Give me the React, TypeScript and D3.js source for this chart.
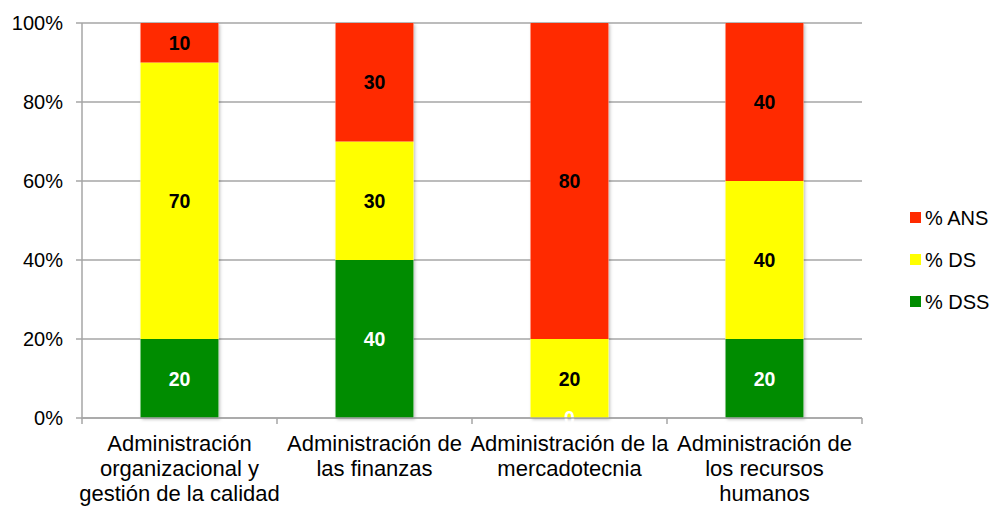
import React from "react";
import * as d3 from "d3";

const categories = [
  ["Administración", "organizacional y", "gestión de la calidad"],
  ["Administración de", "las finanzas"],
  ["Administración de la", "mercadotecnia"],
  ["Administración de", "los recursos", "humanos"],
];
const seriesNames = ["% DSS", "% DS", "% ANS"];
const dss = [20, 40, 0, 20];
const ds = [70, 30, 20, 40];
const ans = [10, 30, 80, 40];
const yTicks = [0, 20, 40, 60, 80, 100];
const colors = ["#008C00", "#FFFF00", "#FF2A00"];
const labelColors = ["#FFFFFF", "#000000", "#000000"];

const W = 997, H = 506;
const left = 82, right = 862, top = 23, bottom = 418;

export default function App() {
  const series = [dss, ds, ans];
  const x = d3.scaleBand<number>().domain(d3.range(categories.length)).range([left, right]).paddingInner(0.6).paddingOuter(0.3);
  const xb = d3.scaleBand<number>().domain(d3.range(categories.length)).range([left, right]);
  const y = d3.scaleLinear().domain([0, 100]).range([bottom, top]);
  const rows = categories.map((_, i) => ({ i, s0: series[0][i], s1: series[1][i], s2: series[2][i] }));
  const stacked = d3.stack<any>().keys(["s0", "s1", "s2"])(rows);
  const font = "Liberation Sans, Arial, sans-serif";
  const legendOrder = [2, 1, 0];
  return (
    <svg width={W} height={H} style={{ position: "absolute", left: 0, top: 0, fontFamily: font }}>
      <rect width={W} height={H} fill="#fff" />
      {yTicks.map((t) => (
        <g key={t}>
          <line x1={left - 6} x2={right} y1={y(t)} y2={y(t)} stroke="#A6A6A6" strokeWidth={1.5} />
          <text x={63} y={y(t)} dy="0.36em" textAnchor="end" fontSize={20} fill="#000">{t}%</text>
        </g>
      ))}
      <line x1={left} x2={left} y1={top} y2={bottom + 1} stroke="#A6A6A6" strokeWidth={1.5} />
      {d3.range(categories.length + 1).map((k) => {
        const xx = k < categories.length ? xb(k)! : right;
        return <line key={k} x1={xx} x2={xx} y1={bottom} y2={bottom + 6} stroke="#A6A6A6" strokeWidth={1.5} />;
      })}
      <defs>
        <filter id="sh" x="-20%" y="-20%" width="140%" height="140%">
          <feDropShadow dx="1.5" dy="1.5" stdDeviation="1.5" floodColor="#000" floodOpacity="0.25" />
        </filter>
      </defs>
      {rows.map((r) => (
        <rect key={"s" + r.i} x={x(r.i)} width={x.bandwidth()} y={y(100)} height={y(0) - y(100)} fill="#fff" filter="url(#sh)" />
      ))}
      {stacked.map((layer, si) =>
        layer.map((d, i) => (
          <rect key={si + "-" + i} x={x(i)} width={x.bandwidth()} y={y(d[1])} height={y(d[0]) - y(d[1])} fill={colors[si]} />
        ))
      )}
      {stacked.map((layer, si) =>
        layer.map((d, i) => (
          <text key={"l" + si + "-" + i} x={x(i)! + x.bandwidth() / 2} y={y((d[0] + d[1]) / 2)} dy="0.36em" textAnchor="middle" fontSize={19.5} fontWeight="bold" fill={labelColors[si]}>
            {series[si][i]}
          </text>
        ))
      )}
      <line x1={left} x2={right} y1={bottom} y2={bottom} stroke="#A6A6A6" strokeWidth={1.5} />
      {categories.map((lines, i) => (
        <text key={"c" + i} x={xb(i)! + xb.bandwidth() / 2} textAnchor="middle" fontSize={22} fill="#000">
          {lines.map((ln, j) => (
            <tspan key={j} x={xb(i)! + xb.bandwidth() / 2} y={451 + j * 25}>{ln}</tspan>
          ))}
        </text>
      ))}
      {legendOrder.map((si, k) => (
        <g key={"lg" + si} transform={`translate(910, ${218 + k * 42})`}>
          <rect x={0} y={-6} width={11} height={11} fill={colors[si]} />
          <text x={15} y={0} dy="0.36em" fontSize={20} fill="#000">{seriesNames[si]}</text>
        </g>
      ))}
    </svg>
  );
}
